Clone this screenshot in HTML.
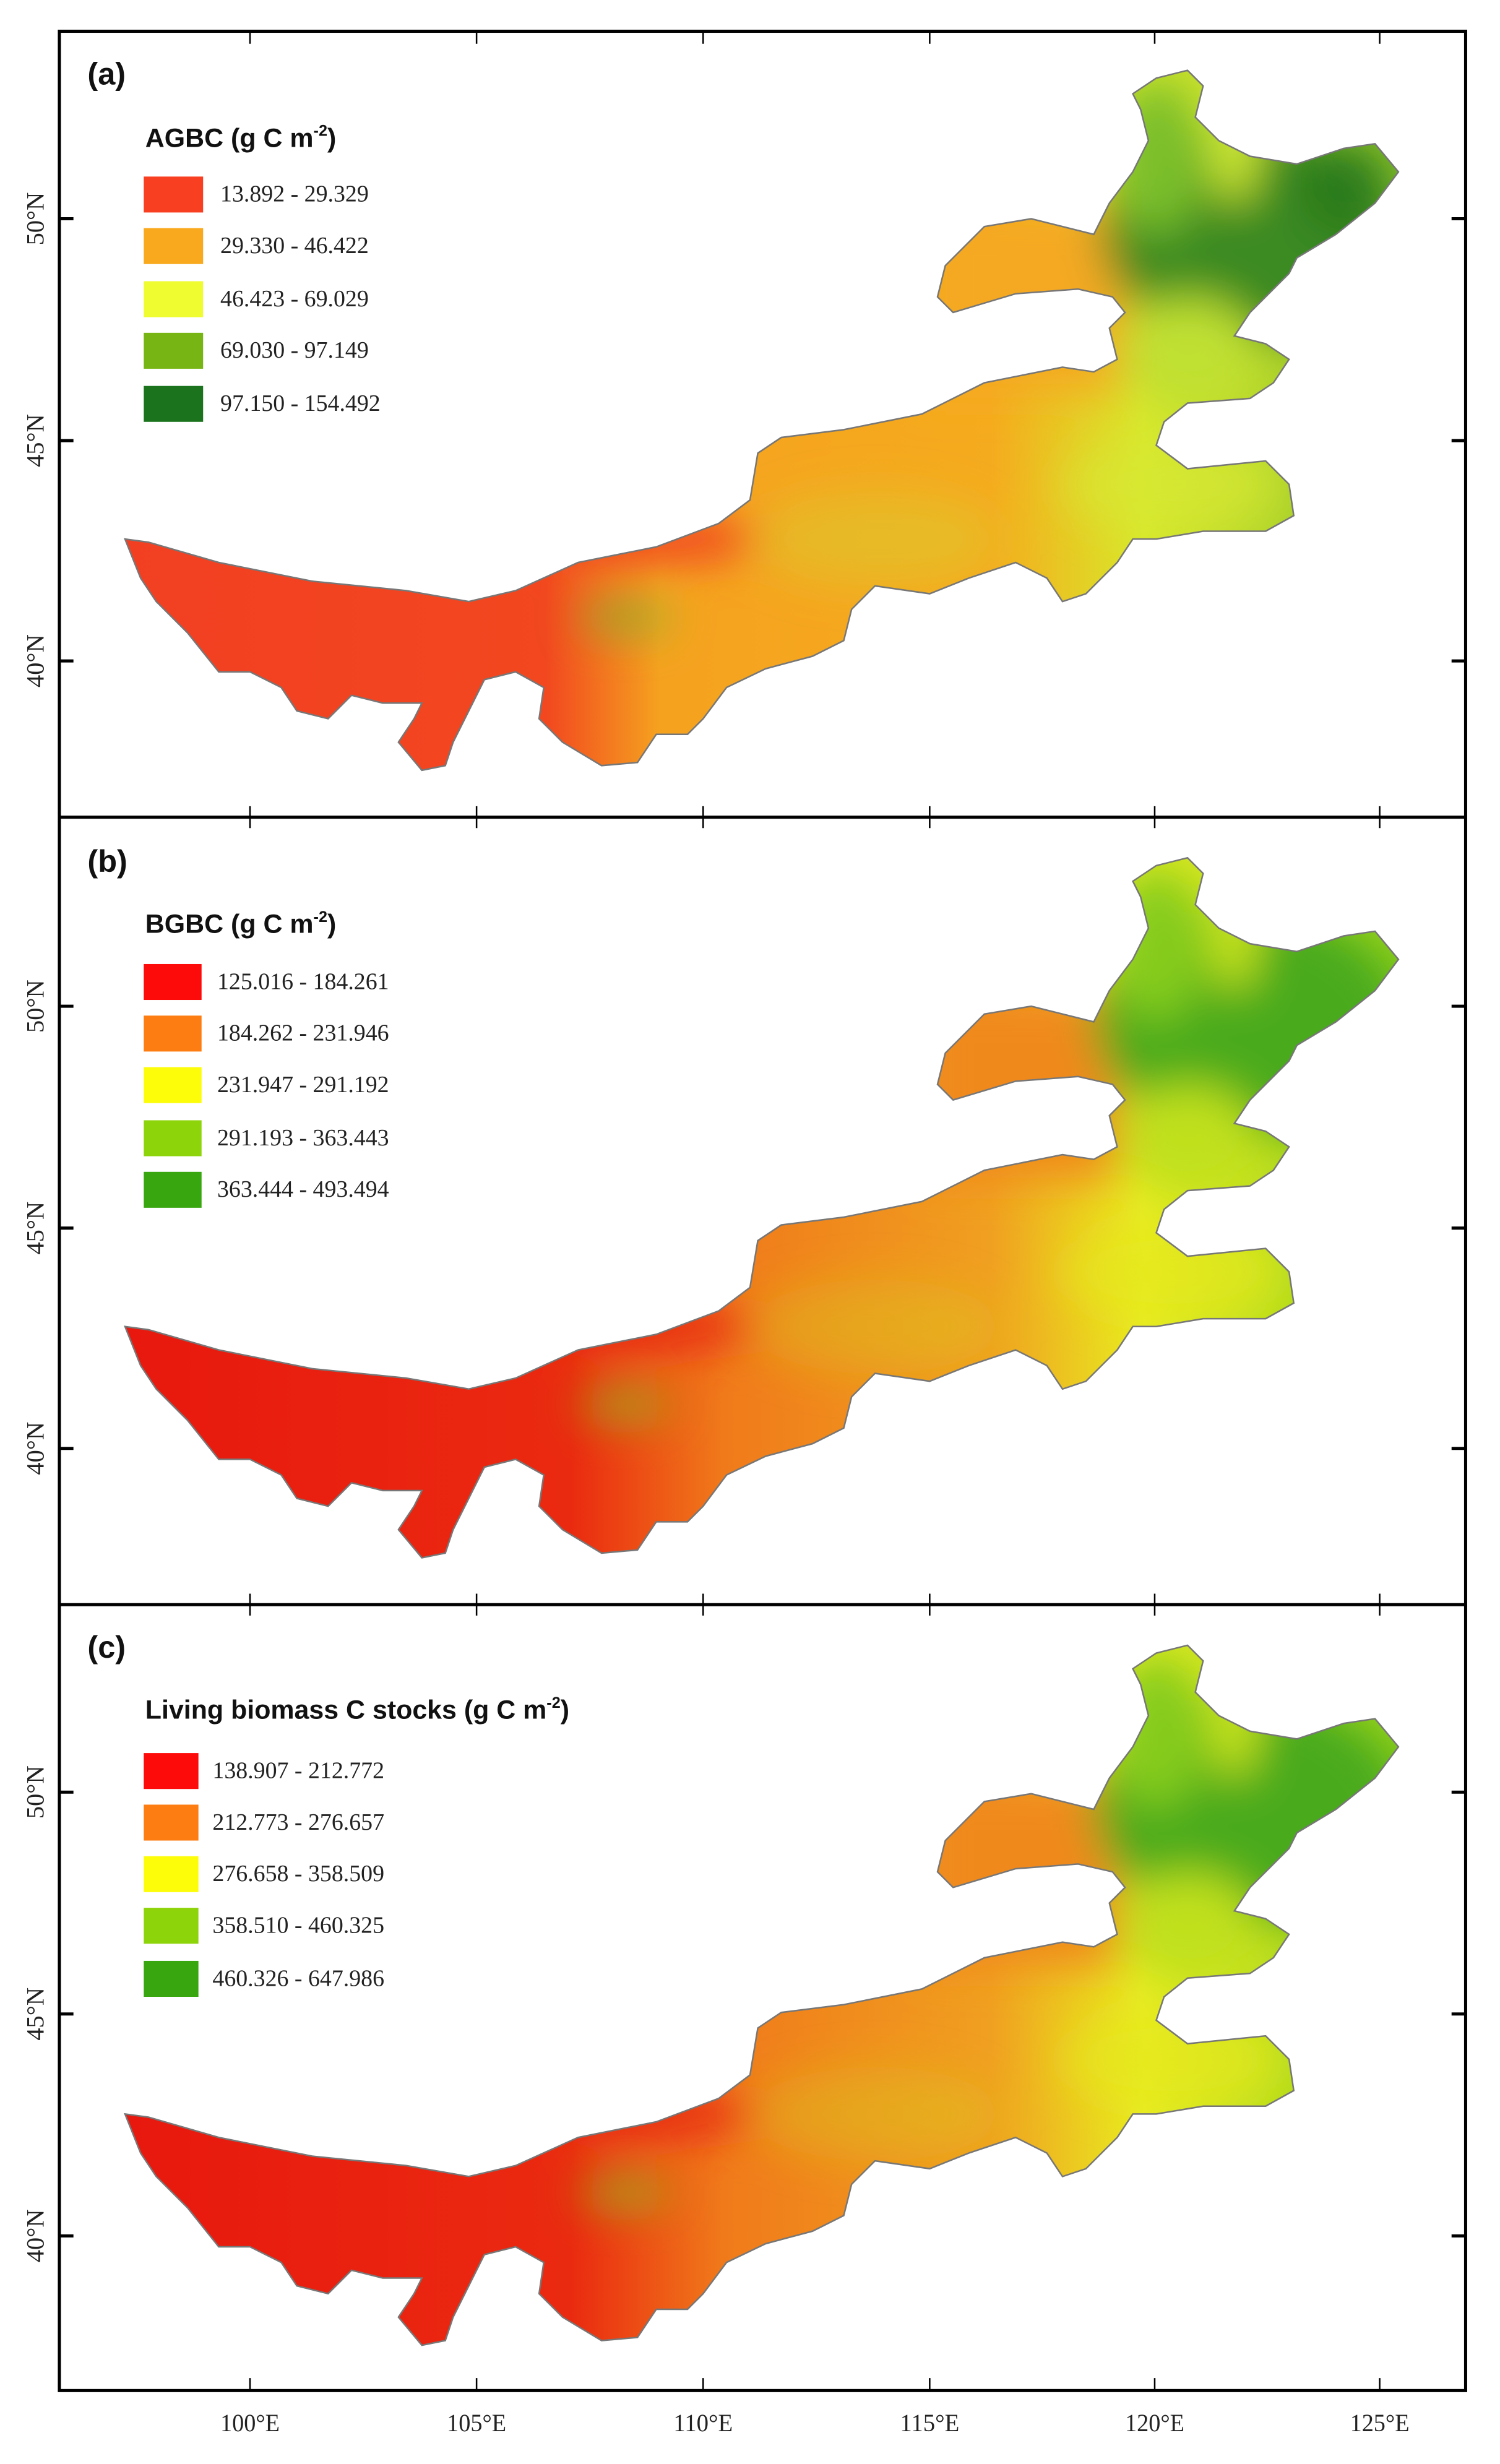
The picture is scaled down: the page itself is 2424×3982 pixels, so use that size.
<!DOCTYPE html>
<html><head><meta charset="utf-8"><style>html,body{margin:0;padding:0;background:#fff}svg{display:block}</style></head>
<body>
<svg xmlns="http://www.w3.org/2000/svg" width="2424" height="3982" viewBox="0 0 960 1577" preserveAspectRatio="none">
<defs>
<path id="im" d="M80,345 L95,347 140,360 200,372 260,378 300,385 330,378 370,360 420,350 460,335 480,320 485,290 500,280 540,275 590,265 630,245 680,235 700,238 715,230 710,210 720,200 712,190 690,185 650,188 610,200 600,190 605,170 630,145 660,140 700,150 710,130 725,110 735,90 730,70 725,60 740,50 760,45 770,55 765,75 780,90 800,100 830,105 860,95 880,92 895,110 880,130 855,150 830,165 825,175 810,190 800,200 790,215 810,220 825,230 815,245 800,255 760,258 745,270 740,285 760,300 810,295 825,310 828,330 810,340 770,340 740,345 725,345 715,360 695,380 680,385 670,370 650,360 620,370 595,380 560,375 545,390 540,410 520,420 490,428 465,440 450,460 440,470 420,470 408,488 385,490 360,475 345,460 348,440 330,430 310,435 300,455 290,475 285,490 270,493 255,475 265,460 270,450 245,450 225,445 210,460 190,455 180,440 160,430 140,430 120,405 100,385 90,370 Z"/>
<clipPath id="cp"><use href="#im"/></clipPath>
<filter id="bl" x="-50%" y="-50%" width="200%" height="200%"><feGaussianBlur stdDeviation="14"/></filter>
<linearGradient id="ga" x1="80" y1="0" x2="895" y2="0" gradientUnits="userSpaceOnUse">
<stop offset="0" stop-color="#f23f22"/><stop offset="0.33" stop-color="#f2471f"/><stop offset="0.42" stop-color="#f5a21f"/><stop offset="0.68" stop-color="#f5ab1e"/><stop offset="0.8" stop-color="#d8e82a"/><stop offset="1" stop-color="#8cc22a"/></linearGradient>
<linearGradient id="gb" x1="80" y1="0" x2="895" y2="0" gradientUnits="userSpaceOnUse">
<stop offset="0" stop-color="#e8180e"/><stop offset="0.35" stop-color="#ea2a10"/><stop offset="0.47" stop-color="#f07a1a"/><stop offset="0.68" stop-color="#f0a020"/><stop offset="0.8" stop-color="#e8ec20"/><stop offset="1" stop-color="#90d01a"/></linearGradient>
</defs>
<rect width="960" height="1577" fill="#fff"/>

<!-- Panel A map -->
<g>
<g clip-path="url(#cp)">
<rect x="0" y="0" width="960" height="520" fill="url(#ga)"/>
<g filter="url(#bl)">
<rect x="590" y="130" width="130" height="120" fill="#f5a923"/>
<ellipse cx="420" cy="345" rx="70" ry="14" fill="#f04020"/>
<ellipse cx="800" cy="150" rx="95" ry="70" fill="#3a8a22"/>
<ellipse cx="860" cy="120" rx="30" ry="30" fill="#2a7a1c"/>
<ellipse cx="740" cy="100" rx="30" ry="50" fill="#7cbf2a"/>
<ellipse cx="790" cy="90" rx="15" ry="40" fill="#d6ee34"/>
<ellipse cx="760" cy="225" rx="45" ry="35" fill="#c0e030"/>
<ellipse cx="750" cy="310" rx="70" ry="30" fill="#d7e833" opacity="0.7"/>
<ellipse cx="400" cy="395" rx="30" ry="10" fill="#7fb42a" opacity="0.8"/>
<ellipse cx="560" cy="345" rx="80" ry="30" fill="#cfdc30" opacity="0.35"/>
</g>
</g>
<use href="#im" fill="none" stroke="#777" stroke-width="1"/>
</g>
<!-- Panel B map -->
<g transform="translate(0,504)">
<g clip-path="url(#cp)">
<rect x="0" y="0" width="960" height="520" fill="url(#gb)"/>
<g filter="url(#bl)">
<rect x="590" y="130" width="125" height="120" fill="#f0891c"/>
<ellipse cx="420" cy="345" rx="70" ry="14" fill="#e82a12"/>
<ellipse cx="800" cy="150" rx="100" ry="75" fill="#4aaa1c"/>
<ellipse cx="740" cy="100" rx="30" ry="50" fill="#86cc1a"/>
<ellipse cx="790" cy="90" rx="15" ry="40" fill="#cfe81c"/>
<ellipse cx="760" cy="225" rx="45" ry="35" fill="#c0e01c"/>
<ellipse cx="750" cy="310" rx="70" ry="30" fill="#e6e81e" opacity="0.7"/>
<ellipse cx="400" cy="395" rx="30" ry="10" fill="#90c01a" opacity="0.8"/>
<ellipse cx="560" cy="345" rx="80" ry="30" fill="#d8d020" opacity="0.35"/>
</g>
</g>
<use href="#im" fill="none" stroke="#777" stroke-width="1"/>
</g>
<!-- Panel C map -->
<g transform="translate(0,1008)">
<g clip-path="url(#cp)">
<rect x="0" y="0" width="960" height="520" fill="url(#gb)"/>
<g filter="url(#bl)">
<rect x="590" y="130" width="125" height="120" fill="#f0891c"/>
<ellipse cx="420" cy="345" rx="70" ry="14" fill="#e82a12"/>
<ellipse cx="800" cy="150" rx="100" ry="75" fill="#4aaa1c"/>
<ellipse cx="740" cy="100" rx="30" ry="50" fill="#86cc1a"/>
<ellipse cx="790" cy="90" rx="15" ry="40" fill="#cfe81c"/>
<ellipse cx="760" cy="225" rx="45" ry="35" fill="#c0e01c"/>
<ellipse cx="750" cy="310" rx="70" ry="30" fill="#e6e81e" opacity="0.7"/>
<ellipse cx="400" cy="395" rx="30" ry="10" fill="#90c01a" opacity="0.8"/>
<ellipse cx="560" cy="345" rx="80" ry="30" fill="#d8d020" opacity="0.35"/>
</g>
</g>
<use href="#im" fill="none" stroke="#777" stroke-width="1"/>
</g>

<!-- Frames -->
<g stroke="#000" fill="none">
<rect x="38" y="20" width="900" height="1510" stroke-width="2"/>
<line x1="38" y1="523" x2="938" y2="523" stroke-width="2"/>
<line x1="38" y1="1027" x2="938" y2="1027" stroke-width="2"/>
<g stroke-width="1">
<path d="M160,20v8M305,20v8M450,20v8M595,20v8M739,20v8M883,20v8"/>
<path d="M160,516v14M305,516v14M450,516v14M595,516v14M739,516v14M883,516v14"/>
<path d="M160,1020v14M305,1020v14M450,1020v14M595,1020v14M739,1020v14M883,1020v14"/>
<path d="M160,1522v8M305,1522v8M450,1522v8M595,1522v8M739,1522v8M883,1522v8"/>
</g>
<g stroke-width="2">
<path d="M38,140h9M38,282h9M38,423h9M38,644h9M38,786h9M38,927h9M38,1147h9M38,1289h9M38,1431h9"/>
<path d="M929,140h9M929,282h9M929,423h9M929,644h9M929,786h9M929,927h9M929,1147h9M929,1289h9M929,1431h9"/>
</g>
</g>

<!-- Lat labels -->
<g font-family="Liberation Serif, serif" font-size="16" fill="#222" text-anchor="middle">
<text transform="translate(28,140) rotate(-90)">50°N</text>
<text transform="translate(28,282) rotate(-90)">45°N</text>
<text transform="translate(28,423) rotate(-90)">40°N</text>
<text transform="translate(28,644) rotate(-90)">50°N</text>
<text transform="translate(28,786) rotate(-90)">45°N</text>
<text transform="translate(28,927) rotate(-90)">40°N</text>
<text transform="translate(28,1147) rotate(-90)">50°N</text>
<text transform="translate(28,1289) rotate(-90)">45°N</text>
<text transform="translate(28,1431) rotate(-90)">40°N</text>
</g>
<g font-family="Liberation Serif, serif" font-size="16" fill="#222" text-anchor="middle">
<text x="160" y="1556" textLength="38" lengthAdjust="spacingAndGlyphs">100°E</text>
<text x="305" y="1556" textLength="38" lengthAdjust="spacingAndGlyphs">105°E</text>
<text x="450" y="1556" textLength="38" lengthAdjust="spacingAndGlyphs">110°E</text>
<text x="595" y="1556" textLength="38" lengthAdjust="spacingAndGlyphs">115°E</text>
<text x="739" y="1556" textLength="38" lengthAdjust="spacingAndGlyphs">120°E</text>
<text x="883" y="1556" textLength="38" lengthAdjust="spacingAndGlyphs">125°E</text>
</g>

<!-- Panel labels & legends -->
<g font-family="Liberation Sans, sans-serif" font-weight="bold" fill="#111">
<text x="56" y="54" font-size="20">(a)</text>
<text x="56" y="558" font-size="20">(b)</text>
<text x="56" y="1061" font-size="20">(c)</text>
<text x="93" y="94" font-size="17">AGBC (g C m<tspan font-size="10" dy="-7">-2</tspan><tspan dy="7">)</tspan></text>
<text x="93" y="597" font-size="17">BGBC (g C m<tspan font-size="10" dy="-7">-2</tspan><tspan dy="7">)</tspan></text>
<text x="93" y="1100" font-size="17">Living biomass C stocks (g C m<tspan font-size="10" dy="-7">-2</tspan><tspan dy="7">)</tspan></text>
</g>
<g>
<rect x="92" y="113" width="38" height="23" fill="#f93f21"/>
<rect x="92" y="146" width="38" height="23" fill="#f9a91e"/>
<rect x="92" y="180" width="38" height="23" fill="#eefc30"/>
<rect x="92" y="213" width="38" height="23" fill="#76b514"/>
<rect x="92" y="247" width="38" height="23" fill="#1b741d"/>
<rect x="92" y="617" width="37" height="23" fill="#fd0a0a"/>
<rect x="92" y="650" width="37" height="23" fill="#fd7d12"/>
<rect x="92" y="683" width="37" height="23" fill="#fdfd0a"/>
<rect x="92" y="717" width="37" height="23" fill="#8ed40a"/>
<rect x="92" y="750" width="37" height="23" fill="#38a60e"/>
<rect x="92" y="1122" width="35" height="23" fill="#fd0a0a"/>
<rect x="92" y="1155" width="35" height="23" fill="#fd7d12"/>
<rect x="92" y="1188" width="35" height="23" fill="#fdfd0a"/>
<rect x="92" y="1221" width="35" height="23" fill="#8ed40a"/>
<rect x="92" y="1255" width="35" height="23" fill="#38a60e"/>
</g>
<g font-family="Liberation Serif, serif" font-size="15" fill="#222">
<text x="141" y="129">13.892 - 29.329</text>
<text x="141" y="162">29.330 - 46.422</text>
<text x="141" y="196">46.423 - 69.029</text>
<text x="141" y="229">69.030 - 97.149</text>
<text x="141" y="263">97.150 - 154.492</text>
<text x="139" y="633">125.016 - 184.261</text>
<text x="139" y="666">184.262 - 231.946</text>
<text x="139" y="699">231.947 - 291.192</text>
<text x="139" y="733">291.193 - 363.443</text>
<text x="139" y="766">363.444 - 493.494</text>
<text x="136" y="1138">138.907 - 212.772</text>
<text x="136" y="1171">212.773 - 276.657</text>
<text x="136" y="1204">276.658 - 358.509</text>
<text x="136" y="1237">358.510 - 460.325</text>
<text x="136" y="1271">460.326 - 647.986</text>
</g>
</svg>
</body></html>
